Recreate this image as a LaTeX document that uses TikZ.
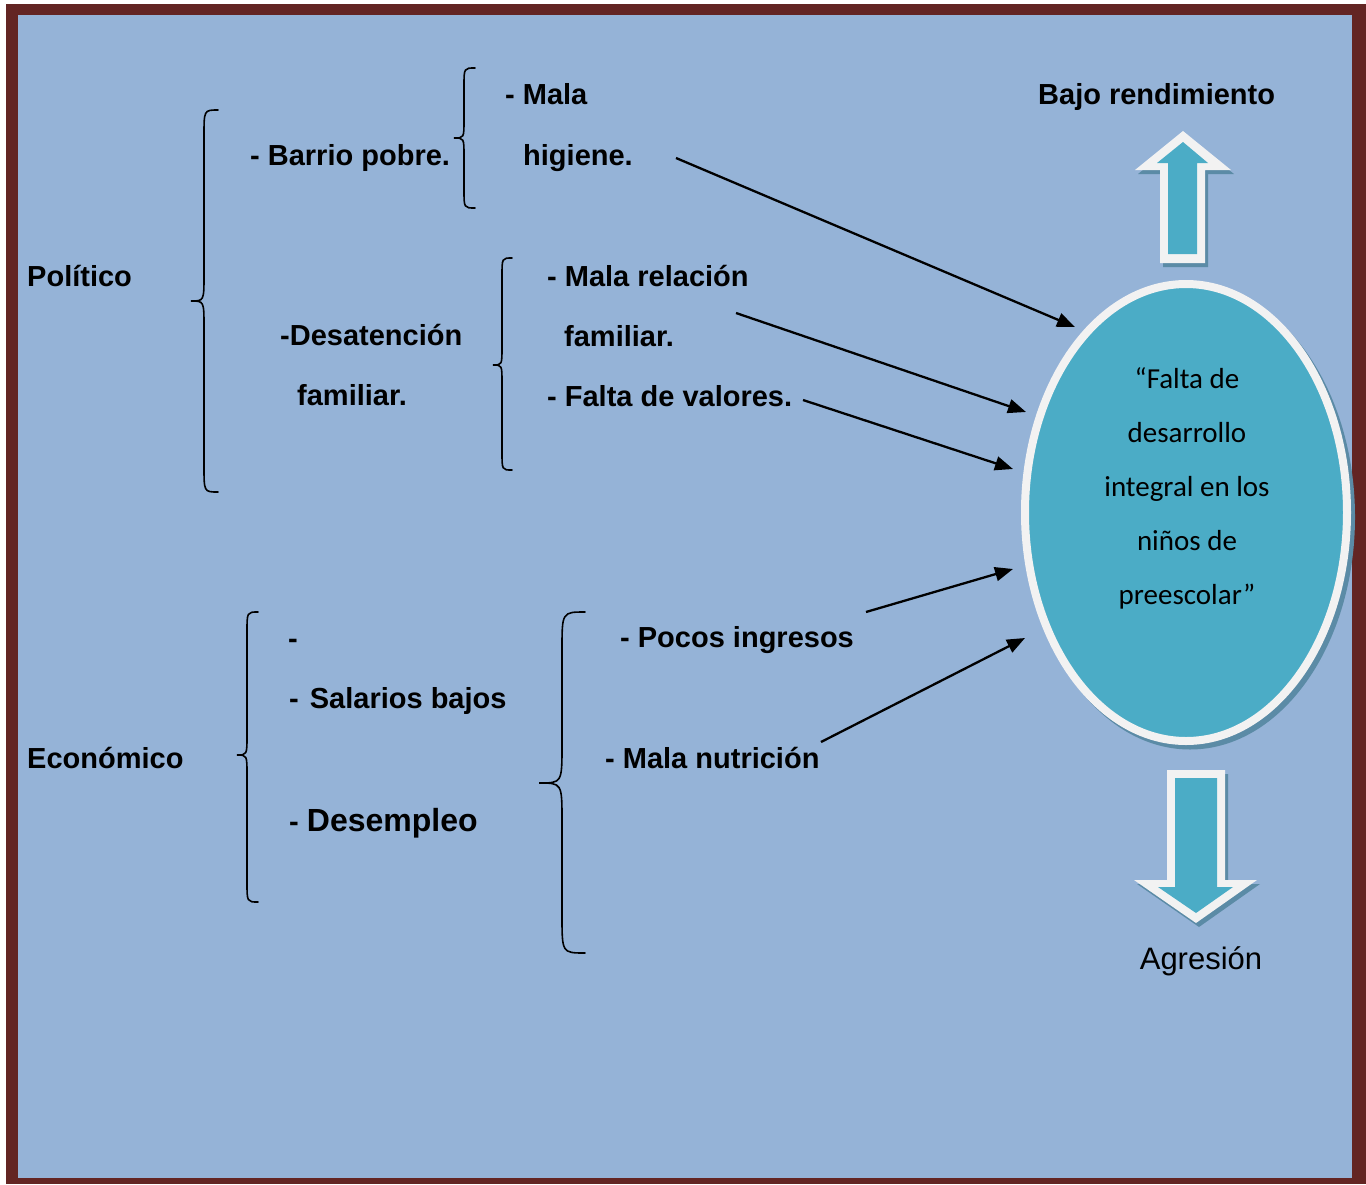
\documentclass[tikz,border=0pt]{standalone}
\usepackage{fontspec}
\setmainfont{Liberation Sans}
\newfontfamily\carlito{Carlito}
\usetikzlibrary{arrows.meta,shapes.geometric}
\definecolor{bgblue}{HTML}{95B3D7}
\definecolor{framered}{HTML}{632523}
\definecolor{ellfill}{HTML}{4BACC6}
\definecolor{ringwhite}{HTML}{F2F2F2}
\definecolor{shadowc}{HTML}{5B8BA6}
% #1 end x, #2 vertical x, #3 tip x, #4 top y, #5 tip y, #6 bottom y, #7 curl radius
\newcommand{\mybrace}[7]{%
  \draw[bracestyle] (#1,#4) .. controls (#2,#4) .. (#2,#4+#7)
    -- (#2,#5-#7) .. controls (#2,#5) .. (#3,#5)
    .. controls (#2,#5) .. (#2,#5+#7)
    -- (#2,#6-#7) .. controls (#2,#6) .. (#1,#6);}
\begin{document}
\begin{tikzpicture}[x=1pt,y=-1pt,
  lbl/.style={anchor=base west,inner sep=0pt,font=\bfseries\fontsize{29}{34}\selectfont},
  arr/.style={line width=2.3pt,-{Triangle[length=18pt,width=14pt]}},
  bracestyle/.style={line width=1.6pt,line cap=round}]
\useasboundingbox (0,0) rectangle (1366,1184);
\fill[white] (0,0) rectangle (1366,1184);
\fill[framered] (6,4) rectangle (1366,1184);
\fill[bgblue] (18,15) rectangle (1352,1178);

% central ellipse
\fill[shadowc] (1190,517) ellipse [x radius=165, y radius=232.5];
\node[ellipse, draw=ringwhite, line width=8pt, fill=ellfill, minimum width=322pt,
  minimum height=457pt, inner sep=0pt] (ell) at (1186,512.5) {};
\node[font=\carlito\fontsize{29}{54}\selectfont, align=center, inner sep=0pt] (elltxt)
  at (1187,488) {“Falta de\\desarrollo\\integral en los\\niños de\\preescolar”};

% up arrow
\fill[shadowc] (1186,135) -- (1234,174) -- (1208,174) -- (1208,267) -- (1163,267) -- (1163,174) -- (1138,174) -- cycle;
\fill[ringwhite] (1183,131) -- (1231,170) -- (1205,170) -- (1205,263) -- (1160,263) -- (1160,170) -- (1135,170) -- cycle;
\fill[ellfill] (1183,142) -- (1208,163) -- (1197,163) -- (1197,254) -- (1168,254) -- (1168,163) -- (1157,163) -- cycle;

% down arrow
\fill[shadowc] (1170,774) -- (1228,774) -- (1228,884) -- (1260,884) -- (1199,927) -- (1137,884) -- (1170,884) -- cycle;
\fill[ringwhite] (1167,770) -- (1225,770) -- (1225,880) -- (1257,880) -- (1196,923) -- (1134,880) -- (1167,880) -- cycle;
\fill[ellfill] (1175,778) -- (1217,778) -- (1217,887) -- (1233,887) -- (1196,913) -- (1158,887) -- (1175,887) -- cycle;

\node[lbl] (bajo) at (1038,104) {Bajo rendimiento};
\node[anchor=base, inner sep=0pt, font=\fontsize{31}{36}\selectfont] (agr) at (1201,969) {Agresión};

% labels
\node[lbl] (mala) at (505,104) {- Mala};
\node[lbl] (higiene) at (523,165) {higiene.};
\node[lbl] (barrio) at (250,165) {- Barrio pobre.};
\node[lbl] (politico) at (27,286) {Político};
\node[lbl] (desat) at (280,345) {-Desatención};
\node[lbl] (famL) at (297,405) {familiar.};
\node[lbl] (malarel) at (547,286) {- Mala relación};
\node[lbl] (famR) at (564,346) {familiar.};
\node[lbl] (valores) at (547,406) {- Falta de valores.};
\node[lbl] (economico) at (27,768) {Económico};
\node[lbl] (dash) at (288,648) {-};
\node[lbl] (salarios) at (289,708) {-\hspace{11pt}Salarios bajos};
\node[lbl] (desemp) at (289,831) {- {\fontsize{32}{38}\selectfont Desempleo}};
\node[lbl] (pocos) at (620,647) {- Pocos ingresos};
\node[lbl] (nutri) at (605,768) {- Mala nutrición};

% braces
\mybrace{218}{204}{191}{110}{301}{492}{26}
\mybrace{475}{464}{454}{68}{138}{208}{18}
\mybrace{512}{502}{493}{258}{365}{470}{18}
\mybrace{258}{247}{237}{612}{755}{902}{20}
\mybrace{585}{562}{539}{612}{783}{953}{38}

% arrows
\coordinate (s1) at (676,158); \coordinate (e1) at (1075,327);
\coordinate (s2) at (736,313); \coordinate (e2) at (1026,412);
\coordinate (s3) at (803,400); \coordinate (e3) at (1013,469);
\coordinate (s4) at (866,612); \coordinate (e4) at (1013,569);
\coordinate (s5) at (821,742); \coordinate (e5) at (1025,638);
\draw[arr] (s1) -- (e1);
\draw[arr] (s2) -- (e2);
\draw[arr] (s3) -- (e3);
\draw[arr] (s4) -- (e4);
\draw[arr] (s5) -- (e5);
\end{tikzpicture}
\end{document}
